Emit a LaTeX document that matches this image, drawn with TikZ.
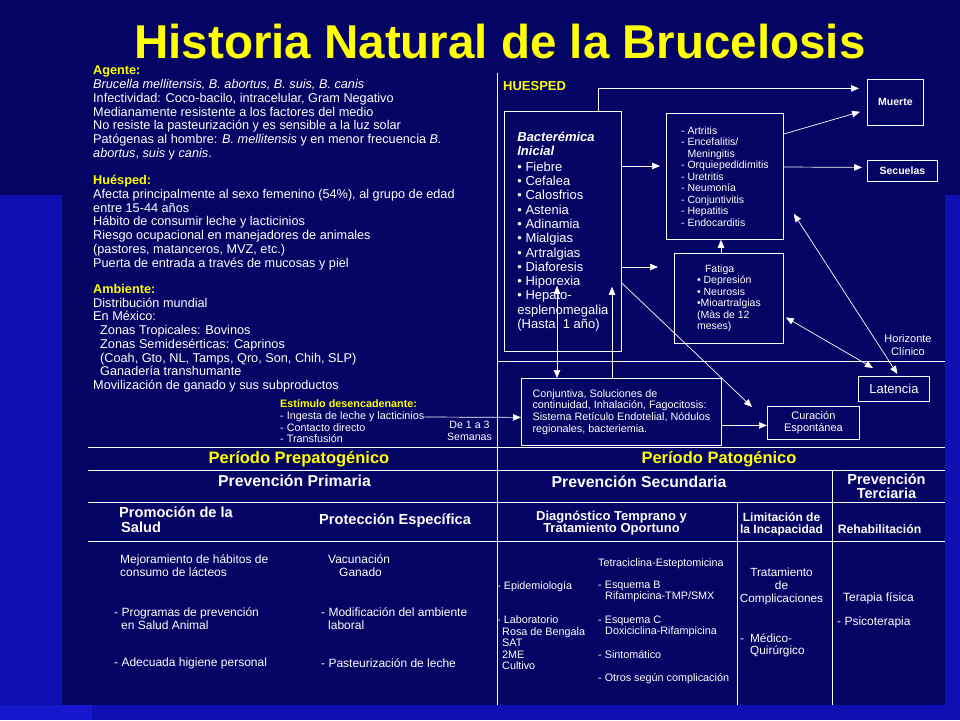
\documentclass[tikz,border=0pt]{standalone}
\usepackage{fontspec}
\setmainfont{Liberation Sans}
\usetikzlibrary{arrows.meta,calc}
\definecolor{navy}{RGB}{4,4,100}
\definecolor{slide}{RGB}{14,14,178}
\definecolor{brightblue}{RGB}{22,22,205}
\definecolor{hilite}{RGB}{255,255,0}
\newcommand{\fsz}[2]{\fontsize{#1}{#2}\selectfont}

\begin{document}
\begin{tikzpicture}[x=1pt,y=-1pt,text=white,
  box/.style={draw=white,line width=0.8pt,align=left,inner sep=0pt},
  lbl/.style={anchor=north west,align=left,inner sep=0pt},
  ctr/.style={align=center,inner sep=0pt},
  head/.style={ctr,font=\bfseries\fsz{16.5}{18},text=hilite},
  ar/.style={-{Triangle[length=8pt,width=6.5pt]},white,line width=0.7pt},
  dar/.style={{Triangle[length=8pt,width=6.5pt]}-{Triangle[length=8pt,width=6.5pt]},white,line width=0.7pt},
  rule/.style={white,line width=0.8pt}]
  % slide background
  \fill[slide] (0,0) rectangle (960,720);
  \fill[navy] (0,0) rectangle (960,195);
  \fill[navy] (62,0) rectangle (945,705);
  \fill[brightblue] (0,705) rectangle (92,720);
  \node[anchor=base,font=\bfseries\fsz{47.5}{50},text=hilite,inner sep=0pt] (title) at (500,58) {Historia Natural de la Brucelosis};
  % triada ecologica
  \node[lbl,font=\fsz{12.7}{13.75}] (agentetxt) at (93,66) {\textcolor{hilite}{\bfseries Agente:}\\
    \textit{Brucella mellitensis, B. abortus, B. suis, B. canis}\\
    Infectividad: Coco-bacilo, intracelular, Gram Negativo\\
    Medianamente resistente a los factores del medio\\
    No resiste la pasteurización y es sensible a la luz solar\\
    Patógenas al hombre: \textit{B. mellitensis} y en menor frecuencia \textit{B.}\\
    \textit{abortus}, \textit{suis} y \textit{canis}.};
  \node[lbl,font=\fsz{12.7}{13.75}] (huespedtxt) at (93,175) {\textcolor{hilite}{\bfseries Huésped:}\\
    Afecta principalmente al sexo femenino (54\%), al grupo de edad\\
    entre 15-44 años\\
    Hábito de consumir leche y lacticinios\\
    Riesgo ocupacional en manejadores de animales\\
    (pastores, matanceros, MVZ, etc.)\\
    Puerta de entrada a través de mucosas y piel};
  \node[lbl,font=\fsz{12.7}{13.75}] (ambientetxt) at (93,284) {\textcolor{hilite}{\bfseries Ambiente:}\\
    Distribución mundial\\
    En México:\\
    \hspace*{7pt}Zonas Tropicales: Bovinos\\
    \hspace*{7pt}Zonas Semidesérticas: Caprinos\\
    \hspace*{7pt}(Coah, Gto, NL, Tamps, Qro, Son, Chih, SLP)\\
    \hspace*{7pt}Ganadería transhumante\\
    Movilización de ganado y sus subproductos};
  % periodo patogenico
  \node[anchor=west,font=\bfseries\fsz{13}{14},text=hilite,inner sep=0pt] (hlabel) at (503,86) {HUESPED};
  \node[box,anchor=north west,minimum width=117pt,minimum height=240pt,font=\fsz{13}{14.3}] (bact) at (504,111)
    {\textbf{\textit{Bacterémica}}\\\textbf{\textit{Inicial}}\\[1.5pt]
     • Fiebre\\• Cefalea\\• Calosfrios\\• Astenia\\• Adinamia\\• Mialgias\\• Artralgias\\• Diaforesis\\• Hiporexia\\• Hepato-\\esplenomegalia\\(Hasta\ \ 1 año)};
  \node[box,anchor=north west,minimum width=117pt,minimum height=126pt,font=\fsz{10.5}{11.5}] (comp) at (666,113)
    {- Artritis\\- Encefalitis/\\\hspace*{6.4pt}Meningitis\\- Orquiepedidimitis\\- Uretritis\\- Neumonía\\- Conjuntivitis\\- Hepatitis\\- Endocarditis};
  \node[box,anchor=north west,minimum width=109pt,minimum height=90pt,font=\fsz{10.5}{11.5}] (fat) at (674,253)
    {\hspace*{8pt}Fatiga\\• Depresión\\• Neurosis\\•Mioartralgias\\(Màs de 12\\meses)};
  \node[box,anchor=north west,minimum width=56pt,minimum height=46pt,font=\bfseries\fsz{10.5}{12}] (muerte) at (867,79) {Muerte};
  \node[box,anchor=north west,minimum width=70pt,minimum height=21pt,font=\bfseries\fsz{10.5}{12}] (secuelas) at (867,160) {Secuelas};
  \node[box,anchor=north west,minimum width=71pt,minimum height=25pt,font=\fsz{13}{14}] (latencia) at (858,376) {Latencia};
  \node[box,anchor=north west,minimum width=92pt,minimum height=33pt,align=center,font=\fsz{11}{12}] (curacion) at (767,406) {Curación\\Espontánea};
  \node[box,anchor=north west,minimum width=200pt,minimum height=67pt,font=\fsz{10.8}{11.7}] (conj) at (521,378)
    {Conjuntiva, Soluciones de\\continuidad, Inhalación, Fagocitosis:\\Sistema Retículo Endotelial, Nódulos\\regionales, bacteriemia.};
  \node[ctr,font=\fsz{11}{13}] (horiz) at (908,345.5) {Horizonte\\Clínico};
  \node[lbl,font=\fsz{10.8}{11.7}] (stim) at (280,399.5) {\textcolor{hilite}{\bfseries Estímulo desencadenante:}\\- Ingesta de leche y lacticinios\\- Contacto directo\\- Transfusión};
  \node[ctr,font=\fsz{10.6}{12}] (lapso) at (469.5,431) {De 1 a 3\\Semanas};
  % arrows
  \draw[ar] ($(bact.north east)+(-23,0)$) |- ($(muerte.west)+(-8,-14)$);
  \draw[ar] ($(comp.north east)+(0,21)$) -- ($(muerte.south west)+(-7,-14)$);
  \draw[ar] ($(comp.north east)+(0,54)$) -- ($(secuelas.west)+(-5,-3.5)$);
  \draw[ar] ($(bact.north east)+(0,55)$) -- ($(comp.north west)+(-6,53)$);
  \draw[ar] ($(bact.north east)+(0,156)$) -- ($(fat.north west)+(-16,14)$);
  \draw[ar] ($(fat.north west)+(47,0)$) -- ($(comp.south west)+(55,0)$);
  \draw[dar] ($(conj.north west)+(36,0)$) -- ($(bact.south west)+(53,-66)$);
  \draw[ar] ($(conj.north west)+(91,0)$) -- ($(bact.south west)+(108,-65)$);
  \draw[ar] ($(bact.north east)+(0,172)$) -- ($(curacion.north west)+(-15,1)$);
  \draw[ar] ($(conj.east)+(0,13.5)$) -- ($(curacion.west)+(0,2.5)$);
  \draw[ar] ($(stim.north east)+(0,17.5)$) -- ($(conj.west)+(0,5.5)$);
  \draw[dar] ($(comp.south east)+(10,-26)$) -- ($(latencia.north)+(3.5,-2)$);
  \draw[dar] ($(fat.east)+(2,19)$) -- ($(latencia.north west)+(15,-8)$);
  % table rules
  \draw[rule] (497,73) -- (497,705);
  \draw[rule] (497,361) -- (945,361);
  \foreach \yy in {447,470,502,541} \draw[rule] (88,\yy) -- (945,\yy);
  \draw[rule] (737,502) -- (737,705);
  \draw[rule] (832,470) -- (832,705);
  % niveles de prevencion
  \node[head] (prepat) at (299,459.5) {Período Prepatogénico};
  \node[head] (pat) at (719,459.5) {Período Patogénico};
  \node[ctr,font=\bfseries\fsz{15.8}{17}] (prim) at (294.5,481) {Prevención Primaria};
  \node[ctr,font=\bfseries\fsz{15.8}{17}] (sec) at (639,482) {Prevención Secundaria};
  \node[ctr,font=\bfseries\fsz{14.5}{14}] (terc) at (886.5,486) {Prevención\\Terciaria};
  \node[lbl,font=\bfseries\fsz{14.6}{15}] (promo) at (119,507) {Promoción de la\\\hspace*{2pt}Salud};
  \node[anchor=west,inner sep=0pt,font=\bfseries\fsz{14.6}{15}] (protec) at (319,521) {Protección Específica};
  \node[ctr,font=\bfseries\fsz{13}{12.5}] (diag) at (611.5,523) {Diagnóstico Temprano y\\Tratamiento Oportuno};
  \node[ctr,font=\bfseries\fsz{12}{11.5}] (limit) at (781.5,524.5) {Limitación de\\la Incapacidad};
  \node[ctr,font=\bfseries\fsz{12.2}{13}] (rehab) at (879.5,529) {Rehabilitación};
  \node[lbl,font=\fsz{12}{13.2}] (mejora) at (120,554) {Mejoramiento de hábitos de\\consumo de lácteos};
  \node[lbl,font=\fsz{12}{13.2}] (progr) at (114,607) {- Programas de prevención\\\hspace*{7pt}en Salud Animal};
  \node[lbl,font=\fsz{12}{13.2}] (higiene) at (114,658) {- Adecuada higiene personal};
  \node[lbl,font=\fsz{12}{13.2}] (vacuna) at (328,554) {Vacunación\\\hspace*{11pt}Ganado};
  \node[lbl,font=\fsz{12}{13.2}] (modif) at (321,607) {- Modificación del ambiente\\\hspace*{7pt}laboral};
  \node[lbl,font=\fsz{12}{13.2}] (pasteur) at (321,658) {- Pasteurización de leche};
  \node[lbl,font=\fsz{10.8}{11.5}] (epid) at (497,581.7) {- Epidemiología};
  \node[lbl,font=\fsz{10.8}{11.5}] (lab) at (497,615.7) {- Laboratorio\\\hspace*{5pt}Rosa de Bengala\\\hspace*{5pt}SAT\\\hspace*{5pt}2ME\\\hspace*{5pt}Cultivo};
  \node[lbl,font=\fsz{10.8}{11.5}] (tetra) at (598,558.7) {Tetraciclina-Esteptomicina};
  \node[lbl,font=\fsz{10.8}{11.5}] (esqb) at (598,580.7) {- Esquema B\\\hspace*{7pt}Rifampicina-TMP/SMX};
  \node[lbl,font=\fsz{10.8}{11.5}] (esqc) at (598,615.7) {- Esquema C\\\hspace*{7pt}Doxiciclina-Rifampicina};
  \node[lbl,font=\fsz{10.8}{11.5}] (sinto) at (598,650.7) {- Sintomático};
  \node[lbl,font=\fsz{10.8}{11.5}] (otros) at (598,673.7) {- Otros según complicación};
  \node[ctr,font=\fsz{11.8}{13}] (tratam) at (781.5,586) {Tratamiento\\de\\Complicaciones};
  \node[lbl,font=\fsz{11.8}{12.5}] (medq) at (740,633.5) {-\hspace*{6pt}Médico-\\\hspace*{10pt}Quirúrgico};
  \node[lbl,font=\fsz{12}{13}] (terapia) at (843,592) {Terapia física};
  \node[lbl,font=\fsz{12}{13}] (psico) at (837,617) {- Psicoterapia};
\end{tikzpicture}
\end{document}
